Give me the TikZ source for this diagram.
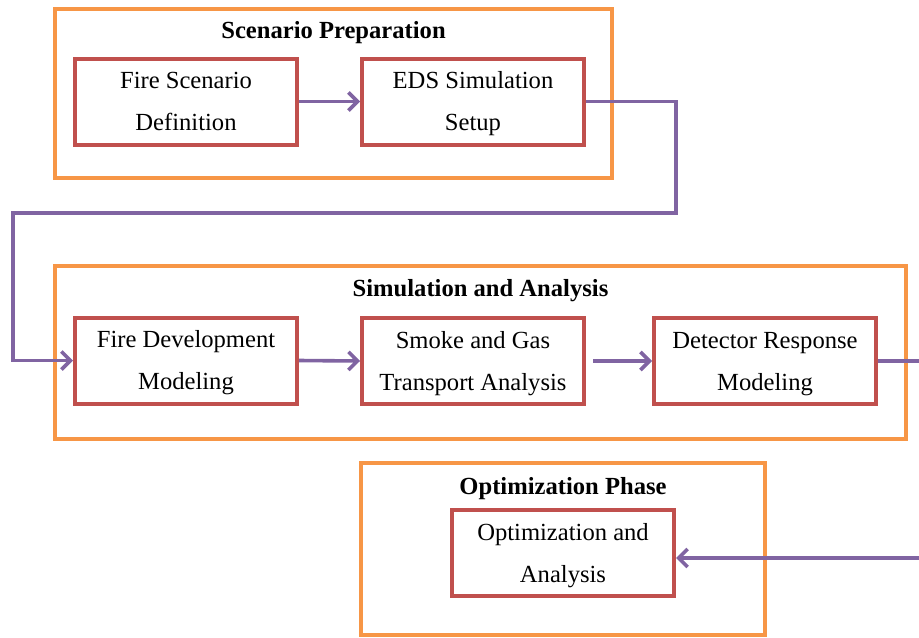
\documentclass[tikz,border=0pt]{standalone}
\usepackage{fontspec}
\setmainfont{Liberation Serif}
\usetikzlibrary{arrows.meta}

\definecolor{phaseorange}{HTML}{F79646}
\definecolor{boxred}{HTML}{C0504D}
\definecolor{flowpurple}{HTML}{8064A2}

% two centred lines of equal height inside a process box
\newcommand\twolines[2]{\strut#1\\\strut#2}

\begin{document}
\begin{tikzpicture}[x=0.5pt,y=-0.5pt,
  phase/.style={draw=phaseorange,line width=2pt,rectangle,inner sep=0pt},
  phasetitle/.style={font=\bfseries\fontsize{12.3}{14}\selectfont,anchor=base,inner sep=0pt},
  stepbox/.style={draw=boxred,line width=2pt,rectangle,minimum width=111pt,
    minimum height=43pt,align=center,inner sep=0pt,
    font=\fontsize{12.3}{21}\selectfont},
  flowline/.style={draw=flowpurple,line width=1.8pt},
  flow/.style={flowline,-{Straight Barb[length=4.5pt,width=9pt]}}]

\useasboundingbox (0,0) rectangle (919,637);

% phase frames
\node[phase,minimum width=278.5pt,minimum height=84.5pt] (prep) at (333.5,93.5) {};
\node[phase,minimum width=425.5pt,minimum height=86.5pt] (sim) at (480.5,352.5) {};
\node[phase,minimum width=202pt,minimum height=86pt] (opt) at (563,549) {};

% phase titles
\node[phasetitle] (preptitle) at (333.5,38) {Scenario Preparation};
\node[phasetitle] (simtitle) at (480.5,296) {Simulation and Analysis};
\node[phasetitle] (opttitle) at (563,494) {Optimization Phase};

% process steps
\node[stepbox] (fsd) at (186,101.5) {\twolines{Fire Scenario}{Definition}};
\node[stepbox] (eds) at (473,101.5) {\twolines{EDS Simulation}{Setup}};
\node[stepbox] (fdm) at (186,360.5) {\twolines{Fire Development}{Modeling}};
\node[stepbox] (sgt) at (473,361) {\twolines{Smoke and Gas}{Transport Analysis}};
\node[stepbox] (drm) at (765,361) {\twolines{Detector Response}{Modeling}};
\node[stepbox] (oa) at (563,553) {\twolines{Optimization and}{Analysis}};

% routing points
\coordinate (loopR) at (676,213);
\coordinate (loopL) at (13,213);
\coordinate (exitR) at (919,361);
\coordinate (entryR) at (919,558);

% connectors
\draw[flow] (fsd.east) -- (eds.west);
\draw[flow] (eds.east) -| (loopR) -- (loopL) |- (fdm.west);
\draw[flow] (fdm.east) -- (sgt.west);
\draw[flow,shorten <=3.5pt] (sgt.east) -- (drm.west);
\draw[flowline] (drm.east) -- (exitR);
\draw[flow] (entryR) -- (entryR -| oa.east);
\end{tikzpicture}
\end{document}
